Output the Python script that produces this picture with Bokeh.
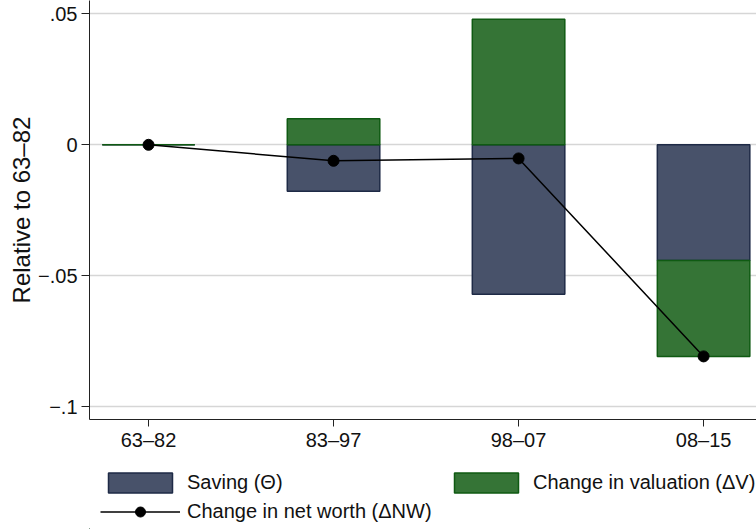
from bokeh.plotting import figure
from bokeh.layouts import column
from bokeh.models import FixedTicker, Legend, LegendItem, ColumnDataSource, Range1d
from bokeh.embed import file_html
from bokeh.resources import INLINE

# ---- data ----
periods = ["63–82", "83–97", "98–07", "08–15"]
saving = [0.0, -0.0177, -0.0570, -0.0441]
valuation = [0.0, 0.0099, 0.0479, -0.0366]
net_worth = [0.0, -0.0061, -0.0052, -0.0807]
ytick_values = [-0.1, -0.05, 0.0, 0.05]
ytick_labels = ["−.1", "−.05", "0", ".05"]
legend_labels = ["Saving (Θ)", "Change in valuation (ΔV)", "Change in net worth (ΔNW)"]

xs = [i + 1 for i in range(len(periods))]

# stacked positions (positives up from 0, negatives down from 0)
val_bottom, val_top = [], []
for s, v in zip(saving, valuation):
    base = max(s, 0.0) if v >= 0 else min(s, 0.0)
    val_bottom.append(base)
    val_top.append(base + v)

src = ColumnDataSource(dict(x=xs, sav_top=saving, sav_bottom=[0.0] * len(xs),
                            val_top=val_top, val_bottom=val_bottom, nw=net_worth))

FONT = "Liberation Sans"
NAVY_FILL, NAVY_LINE = "#48526A", "#1E2A46"
GREEN_FILL, GREEN_LINE = "#357436", "#0F5A12"
bar_styles = dict(width=0.5, line_width=1.5)


def draw_series(fig):
    r_sav = fig.vbar(x="x", top="sav_top", bottom="sav_bottom", source=src,
                     fill_color=NAVY_FILL, line_color=NAVY_LINE, **bar_styles)
    r_val = fig.vbar(x="x", top="val_top", bottom="val_bottom", source=src,
                     fill_color=GREEN_FILL, line_color=GREEN_LINE, **bar_styles)
    r_line = fig.line(x="x", y="nw", source=src, line_color="black", line_width=1.5)
    r_pts = fig.scatter(x="x", y="nw", source=src, size=11, marker="circle",
                        fill_color="black", line_color="black")
    return r_sav, r_val, r_line, r_pts


p = figure(width=756, height=453, output_backend="svg", toolbar_location=None,
           x_range=Range1d(0.681, 4.286), y_range=Range1d(-0.10477, 0.05504),
           min_border_left=89, min_border_top=0, min_border_right=0, min_border_bottom=34)
p.outline_line_color = None
p.background_fill_color = "white"
p.border_fill_color = "white"
draw_series(p)

# axes
p.xaxis.ticker = FixedTicker(ticks=xs)
p.xaxis.major_label_overrides = {x: lab for x, lab in zip(xs, periods)}
p.yaxis.ticker = FixedTicker(ticks=ytick_values)
p.yaxis.major_label_overrides = {v: lab for v, lab in zip(ytick_values, ytick_labels)}
p.xgrid.visible = False
p.ygrid.grid_line_color = "#D6D6D6"
p.ygrid.grid_line_width = 1.5

for ax in (p.xaxis[0], p.yaxis[0]):
    ax.axis_line_color = "#222222"
    ax.axis_line_width = 1
    ax.major_tick_line_color = "#222222"
    ax.major_tick_in = 0
    ax.minor_tick_line_color = None
    ax.major_label_text_font = FONT
    ax.major_label_text_font_size = "20px"
    ax.major_label_text_color = "#111111"

p.xaxis.major_tick_out = 7
p.xaxis.major_label_standoff = 2
p.yaxis.major_tick_out = 8
p.yaxis.major_label_standoff = 4

p.yaxis.axis_label = "Relative to 63–82"
p.yaxis.axis_label_text_font = FONT
p.yaxis.axis_label_text_font_size = "24px"
p.yaxis.axis_label_text_font_style = "normal"
p.yaxis.axis_label_text_color = "#111111"
p.yaxis.axis_label_standoff = 0
p.yaxis.major_label_orientation = "horizontal"

# ---- legend strip (separate figure below the plot; its data lies out of view) ----
lg = figure(width=756, height=76, output_backend="svg", toolbar_location=None,
            x_range=Range1d(100, 101), y_range=Range1d(100, 101),
            x_axis_type=None, y_axis_type=None,
            min_border_left=0, min_border_right=0, min_border_top=0, min_border_bottom=0)
lg.outline_line_color = None
lg.xgrid.visible = False
lg.ygrid.visible = False
lg.background_fill_color = "white"
lg.border_fill_color = "white"
k_sav, k_val, k_line, k_pts = draw_series(lg)

legend = Legend(items=[
    LegendItem(label=legend_labels[0], renderers=[k_sav]),
    LegendItem(label=legend_labels[2], renderers=[k_line, k_pts]),
    LegendItem(label=legend_labels[1], renderers=[k_val]),
], nrows=2, location=(11, 5))
legend.label_text_font = FONT
legend.label_text_font_size = "20px"
legend.label_text_color = "#111111"
legend.glyph_width = 80
legend.glyph_height = 25
legend.label_height = 22
legend.label_standoff = 7
legend.label_width = 255
legend.spacing = 4
legend.padding = 0
legend.margin = 0
legend.border_line_color = None
legend.background_fill_alpha = 0
lg.add_layout(legend)

layout = column(p, lg, spacing=0)
open("out.html", "w").write(file_html(layout, INLINE))
